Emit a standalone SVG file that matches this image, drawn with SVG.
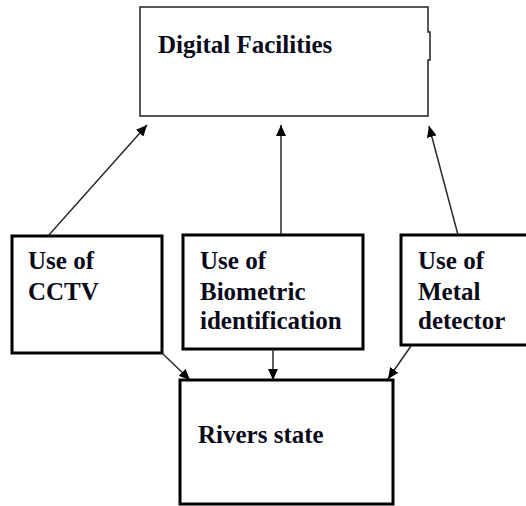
<svg xmlns="http://www.w3.org/2000/svg" width="526" height="506" viewBox="0 0 526 506">
  <style>
    .thin { fill: #fff; stroke: #222; stroke-width: 1.5; }
    .box { fill: #fff; stroke: #000; stroke-width: 3; }
    .lbl { font-family: 'Liberation Serif', 'DejaVu Serif', serif; font-weight: bold; font-size: 25px; fill: #0a0a1a; }
    .conn { stroke: #2a2a2a; stroke-width: 1.5; fill: none; marker-end: url(#ah); }
  </style>
  <defs>
    <marker id="ah" markerWidth="11" markerHeight="10" refX="11" refY="5" orient="auto" markerUnits="userSpaceOnUse">
      <path d="M0,0 L11,5 L0,10 z" fill="#000"/>
    </marker>
  </defs>
  <rect width="526" height="506" fill="#fff"/>
  <g id="digital-facilities">
    <path class="thin" d="M140,7 H428 V32 H430 V60 H428 V116 H140 Z"/>
    <text class="lbl" x="158" y="53">Digital Facilities</text>
  </g>
  <g id="cctv">
    <rect class="box" x="12" y="236" width="150" height="117"/>
    <text class="lbl" x="28" y="269">Use of</text>
    <text class="lbl" x="28" y="300">CCTV</text>
  </g>
  <g id="biometric">
    <rect class="box" x="183" y="235" width="180" height="114"/>
    <text class="lbl" x="200" y="269">Use of</text>
    <text class="lbl" x="200" y="300">Biometric</text>
    <text class="lbl" x="200" y="329">identification</text>
  </g>
  <g id="metal">
    <rect class="box" x="401" y="235" width="140" height="110"/>
    <text class="lbl" x="418" y="269">Use of</text>
    <text class="lbl" x="418" y="300">Metal</text>
    <text class="lbl" x="418" y="329">detector</text>
  </g>
  <g id="rivers-state">
    <rect class="box" x="180" y="380" width="213" height="124"/>
    <text class="lbl" x="198" y="443">Rivers state</text>
  </g>
  <g id="connectors">
    <line class="conn" x1="48" y1="236" x2="147" y2="125"/>
    <line class="conn" x1="281" y1="234" x2="281" y2="125"/>
    <line class="conn" x1="458" y1="235" x2="429" y2="126"/>
    <line class="conn" x1="162" y1="353" x2="190" y2="380"/>
    <line class="conn" x1="273" y1="349" x2="273" y2="380"/>
    <line class="conn" x1="411" y1="346" x2="388" y2="379"/>
  </g>
</svg>
